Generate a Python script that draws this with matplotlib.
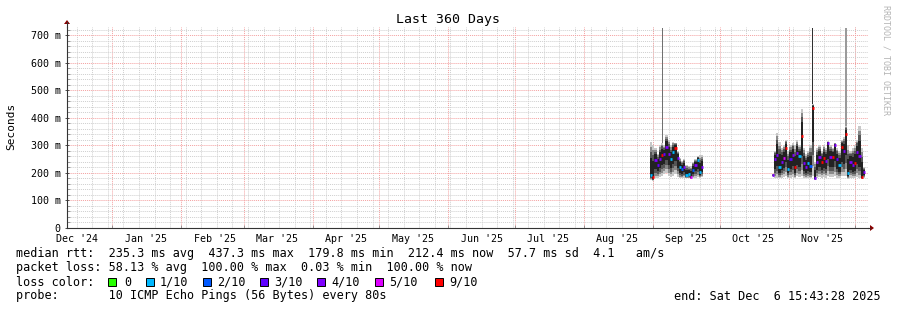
import datetime as dt

import matplotlib
matplotlib.use("Agg")
import matplotlib.pyplot as plt
from matplotlib.lines import Line2D
from matplotlib.patches import Rectangle, Polygon
import pandas as pd

# time window of the graph
t_start = dt.datetime(2024, 12, 11, 15, 43, 28)
t_end = dt.datetime(2025, 12, 6, 15, 43, 28)

# first measurement period (one sample per day), values in ms
p1_start = "2025-08-31 03:00"
p1_median = [192, 185, 247, 230, 250, 265, 270, 295, 267, 250, 277, 291,
             254, 222, 215, 222, 192, 195, 186, 210, 230, 247, 204, 222]
p1_low = [175, 172, 180, 182, 185, 190, 195, 200, 190, 185, 190, 195,
          185, 180, 180, 182, 180, 180, 178, 180, 182, 185, 182, 185]
p1_high = [313, 300, 290, 270, 300, 310, 300, 337, 320, 300, 313, 310,
           280, 255, 245, 250, 230, 225, 225, 240, 250, 260, 265, 265]
p1_loss = [1, 9, 4, 3, 4, 9, 3, 4, 4, 1, 1, 9,
           4, 1, 2, 4, 1, 1, 5, 2, 4, 1, 1, 4]

# second measurement period
p2_start = "2025-10-24 20:00"
p2_median = [192, 250, 265, 222, 240, 254, 290, 216, 250, 265, 222, 272,
             260, 335, 235, 222, 235, 225, 436, 180, 240, 259, 241, 254,
             245, 308, 259, 259, 302, 250, 229, 295, 280, 343, 198, 240,
             229, 235, 277, 260, 186, 204]
p2_low = [190, 180, 182, 180, 182, 185, 190, 180, 182, 185, 180, 188,
          185, 190, 182, 180, 182, 180, 190, 175, 180, 185, 182, 185,
          182, 190, 185, 185, 188, 182, 180, 188, 188, 190, 178, 182,
          180, 182, 185, 182, 178, 180]
p2_high = [195, 280, 345, 313, 290, 300, 320, 280, 300, 310, 300, 320,
           300, 434, 290, 270, 280, 300, 450, 240, 290, 300, 280, 300,
           290, 315, 300, 290, 308, 290, 280, 320, 330, 370, 300, 280,
           290, 300, 320, 370, 290, 220]
p2_loss = [4, 4, 4, 1, 4, 5, 9, 1, 3, 4, 9, 4,
           1, 9, 4, 4, 1, 2, 9, 4, 4, 4, 9, 9,
           4, 4, 4, 9, 4, 3, 1, 9, 4, 9, 1, 4,
           4, 9, 4, 4, 9, 4]

# single outlier pings
spike_dates = ["2025-09-05 03:00", "2025-11-11 20:00", "2025-11-26 20:00"]
spike_tops = [725, 725, 725]
spike_bases = [310, 450, 370]
spike_colors = ["#707070", "#303030", "#9a9a9a"]
spike_widths = [0.45, 0.45, 0.9]

loss_levels = [0, 1, 2, 3, 4, 5, 9]
loss_labels = ["0", "1/10", "2/10", "3/10", "4/10", "5/10", "9/10"]
loss_colors = ["#26ff00", "#00b8ff", "#0059ff", "#5e00ff", "#7e00ff", "#dd00ff", "#ff0000"]

month_labels = ["Dec '24", "Jan '25", "Feb '25", "Mar '25", "Apr '25", "May '25",
                "Jun '25", "Jul '25", "Aug '25", "Sep '25", "Oct '25", "Nov '25"]

plt.rcParams["font.family"] = "DejaVu Sans Mono"

W, H = 897, 310
fig = plt.figure(figsize=(W / 100, H / 100), dpi=100)
x0, x1, y0, y1 = 67, 868, 228, 27
ax = fig.add_axes([x0 / W, 1 - y0 / H, (x1 - x0) / W, (y0 - y1) / H])

# grid
dot = (0, (1, 1))
weeks = pd.date_range(t_start, t_end, freq="W-MON").normalize()
months = pd.date_range("2025-01-01", t_end, freq="MS")
for d in weeks:
    ax.axvline(d, color="#cfcfcf", lw=0.7, ls=dot, zorder=0)
for d in months:
    ax.axvline(d, color="#f4a0a0", lw=0.7, ls=dot, zorder=0)
for v in range(20, 730, 20):
    red = v % 100 == 0
    ax.axhline(v, color="#f4a0a0" if red else "#cfcfcf", lw=0.7, ls=dot, zorder=0)

# smoke (stepped bands around the median) + median marks
shades = [(1.0, "#c8c8c8"), (0.85, "#8a8a8a"), (0.7, "#555555"), (0.5, "#222222")]
color_of = dict(zip(loss_levels, loss_colors))
half = pd.Timedelta(hours=12)
for start, med, low, high, loss in [(p1_start, p1_median, p1_low, p1_high, p1_loss),
                                    (p2_start, p2_median, p2_low, p2_high, p2_loss)]:
    dates = pd.date_range(start, periods=len(med), freq="D")
    # step edges: each sample covers one day
    edges = list(dates - half) + [dates[-1] + half]
    for f, c in shades:
        lo = [m - (m - l) * f for m, l in zip(med, low)]
        hi = [m + (h - m) * f for m, h in zip(med, high)]
        ax.fill_between(edges, lo + [lo[-1]], hi + [hi[-1]], step="post",
                        color=c, linewidth=0, zorder=2)
    ax.hlines(med, dates - half, dates + half,
              colors=[color_of[l] for l in loss], lw=2.0, zorder=3)

sd = pd.to_datetime(spike_dates)
ax.bar(sd, [t - b for t, b in zip(spike_tops, spike_bases)], bottom=spike_bases,
       width=spike_widths, color=spike_colors, linewidth=0, zorder=2)

# axes style
for s in ["top", "right"]:
    ax.spines[s].set_visible(False)
for s in ["left", "bottom"]:
    ax.spines[s].set_color("#333333")
    ax.spines[s].set_linewidth(0.8)

ax.set_yticks(range(0, 701, 100))
ax.set_yticklabels(["0"] + [f"{v} m" for v in range(100, 701, 100)])
ax.set_yticks(range(0, 730, 20), minor=True)
ax.tick_params(axis="y", which="major", length=3, width=0.6, direction="inout",
               labelsize=7.2, pad=3, colors="#333333", labelcolor="black")
ax.tick_params(axis="y", which="minor", length=2, width=0.5, direction="in", colors="#777777")

mid_months = pd.date_range("2024-12-01", periods=len(month_labels), freq="MS") + pd.Timedelta(days=15)
ax.set_xticks(mid_months)
ax.set_xticklabels(month_labels)
ax.tick_params(axis="x", length=0, labelsize=7.2, pad=4)
ax.set_xticks(months, minor=True)
ax.tick_params(axis="x", which="minor", length=2, width=0.5, direction="in", colors="#777777")

ax.set_xlim(t_start, t_end)
ax.set_ylim(0, 730)

# arrows at axis ends
fig.add_artist(Line2D([x1 / W, 870 / W], [1 - y0 / H, 1 - y0 / H], color="#333333", lw=0.8))
fig.add_artist(Line2D([x0 / W, x0 / W], [1 - y1 / H, 1 - 22 / H], color="#333333", lw=0.8))
fig.add_artist(Polygon([[870 / W, 1 - 225 / H], [870 / W, 1 - 231 / H], [874 / W, 1 - 228 / H]],
                       closed=True, color="#880000", lw=0))
fig.add_artist(Polygon([[64 / W, 1 - 24 / H], [70 / W, 1 - 24 / H], [67 / W, 1 - 20 / H]],
                       closed=True, color="#880000", lw=0))

# titles
fig.text(448 / W, 1 - 19 / H, "Last 360 Days", ha="center", va="center", fontsize=9.5)
fig.text(11 / W, 1 - 126 / H, "Seconds", ha="center", va="center", rotation=90, fontsize=8)
fig.text(886 / W, 1 - 60 / H, "RRDTOOL / TOBI OETIKER", ha="center", va="center",
         rotation=270, fontsize=6, color="#b4b4b4")

# legend lines
fs = 8.5
fig.text(16 / W, 1 - 254 / H,
         "median rtt:  235.3 ms avg  437.3 ms max  179.8 ms min  212.4 ms now  57.7 ms sd  4.1   am/s",
         va="center", fontsize=fs)
fig.text(16 / W, 1 - 268 / H,
         "packet loss: 58.13 % avg  100.00 % max  0.03 % min  100.00 % now",
         va="center", fontsize=fs)
fig.text(16 / W, 1 - 282 / H, "loss color:", va="center", fontsize=fs)
box_x = [108, 146, 203, 260, 317, 375, 435]
text_x = [124, 160, 217, 274, 331, 389, 449]
for bx, tx, lab, col in zip(box_x, text_x, loss_labels, loss_colors):
    fig.add_artist(Rectangle((bx / W, 1 - 286 / H), 8 / W, 8 / H, facecolor=col,
                             edgecolor="black", lw=0.7))
    fig.text(tx / W, 1 - 282 / H, lab, va="center", fontsize=fs)
fig.text(16 / W, 1 - 296 / H, "probe:       10 ICMP Echo Pings (56 Bytes) every 80s",
         va="center", fontsize=fs)
fig.text(881 / W, 1 - 296 / H, "end: Sat Dec  6 15:43:28 2025", ha="right", va="center",
         fontsize=fs)

fig.savefig("out.png", dpi=100)
